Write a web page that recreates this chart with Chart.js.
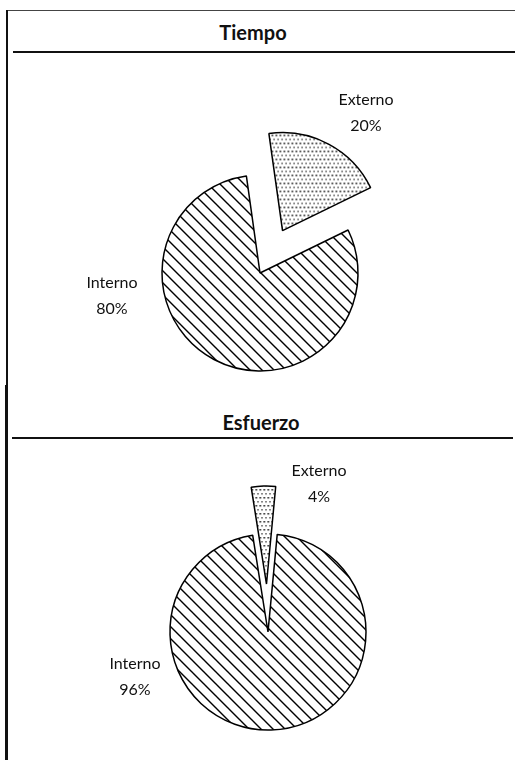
<!DOCTYPE html>
<html>
<head>
<meta charset="utf-8">
<script src="https://cdn.jsdelivr.net/npm/chart.js@4/dist/chart.umd.min.js"></script>
<style>
  html, body { margin: 0; padding: 0; background: #fff; }
  #wrap { position: relative; width: 515px; height: 760px; overflow: hidden; background: #fff; }
  canvas { position: absolute; left: 0; top: 0; }
  .ln { position: absolute; background: #111; }
  .ttl { position: absolute; font-family: Lato, sans-serif; font-weight: bold; font-size: 20px; color: #111;
         transform: translate(-50%, -50%); white-space: nowrap; }
</style>
</head>
<body>
<div id="wrap">
  <div class="ln" style="left:8px; top:10px; width:507px; height:1px; background:#444;"></div>
  <div class="ln" style="left:6px; top:10px; width:2px; height:380px;"></div>
  <div class="ln" style="left:5px; top:385px; width:3px; height:375px;"></div>
  <div class="ln" style="left:13px; top:51px; width:502px; height:2px;"></div>
  <div class="ln" style="left:12px; top:437px; width:501px; height:2px;"></div>
  <div class="ttl" id="t1" style="left:253px; top:32px;"></div>
  <div class="ttl" id="t2" style="left:261px; top:422px;"></div>
  <canvas id="c1" width="515" height="760"></canvas>
  <canvas id="c2" width="515" height="760"></canvas>
</div>
<script>
// ---- data ----
const categories = ['Externo', 'Interno'];
const tiempoValues = [20, 80];
const esfuerzoValues = [4, 96];
const chartTitles = ['Tiempo', 'Esfuerzo'];

document.getElementById('t1').textContent = chartTitles[0];
document.getElementById('t2').textContent = chartTitles[1];

// ---- patterns ----
function hatchPattern() {
  const s = 12, c = document.createElement('canvas');
  c.width = s; c.height = s;
  const g = c.getContext('2d');
  g.fillStyle = '#fff'; g.fillRect(0, 0, s, s);
  g.strokeStyle = '#000'; g.lineWidth = 1.4;
  g.beginPath();
  g.moveTo(-2, -2); g.lineTo(s + 2, s + 2);
  g.moveTo(-2 - s, -2); g.lineTo(2, s + 2);
  g.moveTo(s - 2, -2); g.lineTo(2 * s + 2, s + 2);
  g.stroke();
  return g.createPattern(c, 'repeat');
}
function dotPattern() {
  const w = 4, h = 8, c = document.createElement('canvas');
  c.width = w; c.height = h;
  const g = c.getContext('2d');
  g.fillStyle = '#fff'; g.fillRect(0, 0, w, h);
  g.fillStyle = '#000';
  g.fillRect(1, 1, 1.5, 1.5);
  g.fillRect(3, 5, 1.5, 1.5);
  return g.createPattern(c, 'repeat');
}

// keep exploded slices at their true radius and angle (only translate them)
const ArcEl = Chart.ArcElement || (Chart.elements && Chart.elements.ArcElement) || Chart.registry.getElement('arc');
const origDraw = ArcEl.prototype.draw;
ArcEl.prototype.draw = function (ctx) {
  const off = (this.options.offset || 0) / 4;
  const fix = 1 - Math.sin(Math.min(Math.PI, this.circumference || 0));
  const ro = off * fix;
  const R = this.outerRadius, sA = this.startAngle, eA = this.endAngle;
  const d = R > 0 ? ro / (2 * Math.PI * R) : 0;
  this.outerRadius = R - ro;
  this.startAngle = sA - d;
  this.endAngle = eA + d;
  origDraw.call(this, ctx);
  this.outerRadius = R;
  this.startAngle = sA;
  this.endAngle = eA;
};

const labelPlugin = {
  id: 'sliceLabels',
  afterDatasetsDraw(chart, args, opts) {
    const ctx = chart.ctx;
    const meta = chart.getDatasetMeta(0);
    const vals = chart.data.datasets[0].data;
    ctx.save();
    ctx.font = '16px Lato, sans-serif';
    ctx.fillStyle = '#111';
    ctx.textAlign = 'center';
    ctx.textBaseline = 'middle';
    meta.data.forEach((arc, i) => {
      const o = opts.offsets[i];
      const x = arc.x + o[0], y = arc.y + o[1];
      ctx.fillText(chart.data.labels[i], x, y - 13);
      ctx.fillText(vals[i] + '%', x, y + 13);
    });
    ctx.restore();
  }
};

function makePie(id, values, rotation, padding, offsets) {
  return new Chart(document.getElementById(id), {
    type: 'pie',
    data: {
      labels: categories,
      datasets: [{
        data: values,
        backgroundColor: [dotPattern(), hatchPattern()],
        borderColor: '#000',
        borderWidth: 1.5,
        offset: [192, 0]
      }]
    },
    options: {
      responsive: false,
      devicePixelRatio: 1,
      animation: false,
      rotation: rotation,
      radius: 98,
      layout: { padding: padding },
      plugins: {
        legend: { display: false },
        tooltip: { enabled: false },
        title: { display: false },
        sliceLabels: { offsets: offsets }
      },
      events: []
    },
    plugins: [labelPlugin]
  });
}

makePie('c1', tiempoValues, -8, { left: 5, right: 0, top: 0, bottom: 214 }, [[106, -160], [-148, 23]]);
makePie('c2', esfuerzoValues, -9, { left: 21, right: 0, top: 504, bottom: 0 }, [[51, -148], [-133, 45]]);
</script>
</body>
</html>
